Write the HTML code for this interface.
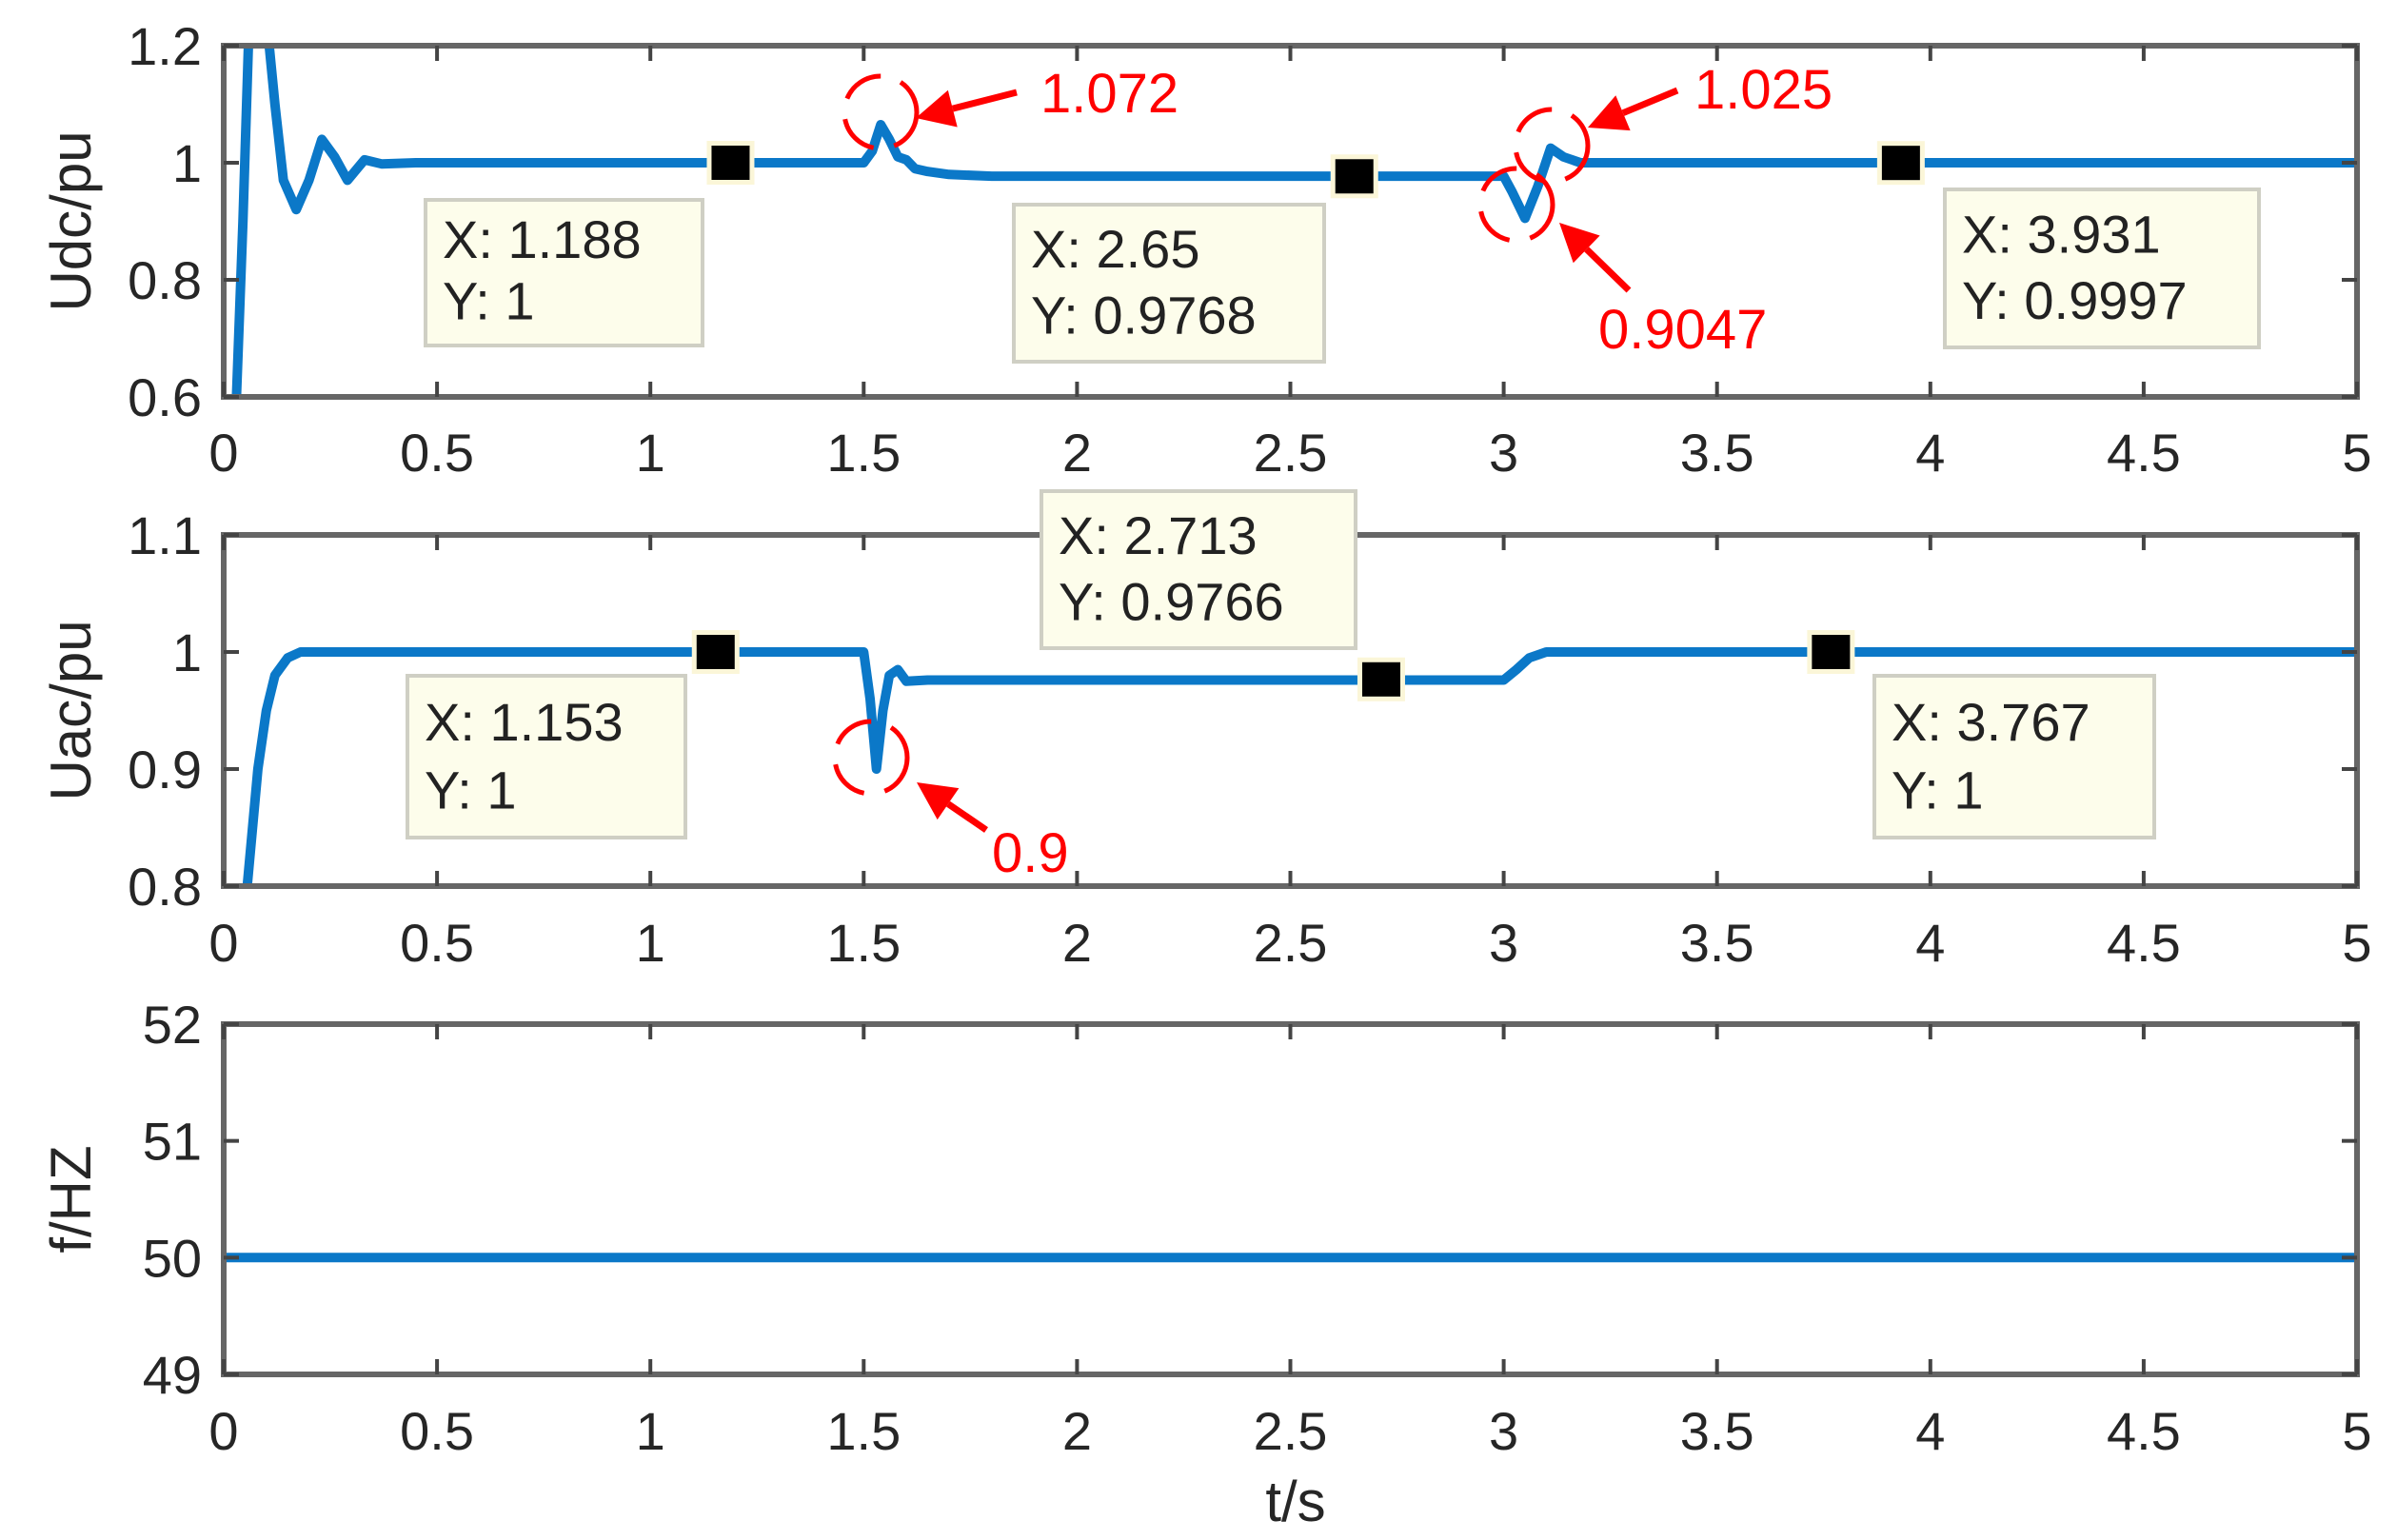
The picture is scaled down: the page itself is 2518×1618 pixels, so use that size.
<!DOCTYPE html>
<html><head><meta charset="utf-8">
<style>
html,body{margin:0;padding:0;background:#fff;}
svg{display:block;}
text{font-family:"Liberation Sans",sans-serif;}
</style></head>
<body>
<svg id="chart" width="2518" height="1618" viewBox="0 0 2518 1618" xmlns="http://www.w3.org/2000/svg">
<rect width="2518" height="1618" fill="#fff"/>
</svg>
<script>
// ---- data ----
const xTicks = [0,0.5,1,1.5,2,2.5,3,3.5,4,4.5,5];
const xTickLabels = ["0","0.5","1","1.5","2","2.5","3","3.5","4","4.5","5"];
const udcTicks = [0.6,0.8,1,1.2];
const udcTickLabels = ["0.6","0.8","1","1.2"];
const uacTicks = [0.8,0.9,1,1.1];
const uacTickLabels = ["0.8","0.9","1","1.1"];
const fTicks = [49,50,51,52];
const fTickLabels = ["49","50","51","52"];

const udcT = [0.03,0.045,0.06,0.1,0.12,0.14,0.17,0.2,0.23,0.26,0.29,0.33,0.37,0.45,1.5,1.52,1.54,1.56,1.58,1.6,1.62,1.65,1.7,1.8,2.0,3.0,3.02,3.05,3.08,3.11,3.14,3.18,3.25,5];
const udcV = [0.6,0.9,1.25,1.25,1.1,0.97,0.92,0.97,1.04,1.01,0.97,1.005,0.998,1,1,1.02,1.065,1.04,1.01,1.005,0.99,0.985,0.98,0.977,0.977,0.977,0.95,0.905,0.96,1.025,1.01,1.0,1.0,1.0];
const uacT = [0.055,0.08,0.1,0.12,0.15,0.18,0.25,1.5,1.515,1.53,1.545,1.56,1.58,1.6,1.65,1.8,3.0,3.03,3.06,3.1,5];
const uacV = [0.8,0.9,0.95,0.98,0.995,1,1,1,0.96,0.9,0.95,0.98,0.985,0.975,0.976,0.976,0.976,0.985,0.995,1,1];
const fT = [0,5];
const fV = [50,50];

const udcTips = [[1.188,1],[2.65,0.9768],[3.931,0.9997]];
const uacTips = [[1.153,1],[2.713,0.9766],[3.767,1]];

// ---- layout ----
const X0=235, X1=2476;
const panels = [
  {name:'udc', top:48, bot:417, min:0.6, max:1.2, ticks:udcTicks, labels:udcTickLabels, title:'Udc/pu', t:udcT, v:udcV, xlabY:475},
  {name:'uac', top:562, bot:931, min:0.8, max:1.1, ticks:uacTicks, labels:uacTickLabels, title:'Uac/pu', t:uacT, v:uacV, xlabY:990},
  {name:'freq', top:1076, bot:1444, min:49, max:52, ticks:fTicks, labels:fTickLabels, title:'f/HZ', t:fT, v:fV, xlabY:1503}
];
const svg = document.getElementById('chart');
const NS = 'http://www.w3.org/2000/svg';
function mk(tag, attrs, parent){const e=document.createElementNS(NS,tag);for(const k in attrs)e.setAttribute(k,attrs[k]);(parent||svg).appendChild(e);return e;}
function xs(t){return X0+(t-0)/(5-0)*(X1-X0);}
function ysF(p){return v=>p.bot-(v-p.min)/(p.max-p.min)*(p.bot-p.top);}

panels.forEach((p,pi)=>{
  const ys=ysF(p);
  const g=mk('g',{});
  
  
  const cp=mk('clipPath',{id:'clip'+pi},g);
  mk('rect',{x:X0,y:p.top,width:X1-X0,height:p.bot-p.top},cp);
  let d='';
  p.t.forEach((t,i)=>{d+=(i?'L':'M')+xs(t).toFixed(1)+','+ys(p.v[i]).toFixed(1);});
  const line=mk('path',{d:d,fill:'none',stroke:'#0b78c8','stroke-width':10,'stroke-linejoin':'round','clip-path':'url(#clip'+pi+')'},g);
  
  
  const fr=mk('rect',{x:X0,y:p.top,width:X1-X0,height:p.bot-p.top,fill:'none',stroke:'#666','stroke-width':6},g);
  
  
  xTicks.forEach((t,i)=>{
    const x=xs(t);
    mk('line',{x1:x,y1:p.bot,x2:x,y2:p.bot-16,stroke:'#444','stroke-width':4},g);
    mk('line',{x1:x,y1:p.top,x2:x,y2:p.top+16,stroke:'#444','stroke-width':4},g);
    const tx=mk('text',{x:x,y:p.xlabY+20,'font-size':56,'text-anchor':'middle',fill:'#262626'},g);
    tx.textContent=xTickLabels[i];
    
    
  });
  p.ticks.forEach((v,i)=>{
    const y=ys(v);
    mk('line',{x1:X0,y1:y,x2:X0+16,y2:y,stroke:'#444','stroke-width':4},g);
    mk('line',{x1:X1,y1:y,x2:X1-16,y2:y,stroke:'#444','stroke-width':4},g);
    const ty=mk('text',{x:212,y:y+20,'font-size':56,'text-anchor':'end',fill:'#262626'},g);
    ty.textContent=p.labels[i];
    
    
  });
  const cy=(p.top+p.bot)/2;
  const yt=mk('text',{x:0,y:0,'font-size':60,'text-anchor':'middle',fill:'#262626',transform:'translate(95,'+cy+') rotate(-90)'},g);
  yt.textContent=p.title;
  
  
});

function tip(panelIdx, tipArr, idx, bx, by, bw, bh){
  const p=panels[panelIdx], ys=ysF(p);
  const [tx,ty]=tipArr[idx];
  const g=mk('g',{});
  
  
  mk('rect',{x:bx,y:by,width:bw,height:bh,fill:'#fdfdeb',stroke:'#cfcfc4','stroke-width':4},g);
  const t1=mk('text',{x:bx+18,y:by+bh*0.40,'font-size':56,fill:'#222'},g);
  t1.textContent='X: '+tx;
  const t2=mk('text',{x:bx+18,y:by+bh*0.82,'font-size':56,fill:'#222'},g);
  t2.textContent='Y: '+ty;
  const mx=xs(tx), my=ys(ty);
  mk('rect',{x:mx-25,y:my-23,width:50,height:46,fill:'#fbf6d8'},g);
  const m=mk('rect',{x:mx-20,y:my-18,width:40,height:36,fill:'#000'},g);
  
  
}
tip(0,udcTips,0,447,210,291,153);
tip(0,udcTips,1,1065,215,326,165);
tip(0,udcTips,2,2043,199,330,166);
tip(1,uacTips,0,428,710,292,170);
tip(1,uacTips,1,1094,516,330,165);
tip(1,uacTips,2,1969,710,294,170);

function note(label, cx, cy, ax1, ay1, ax2, ay2, tx, ty){
  const g=mk('g',{});
  
  
  mk('circle',{cx:cx,cy:cy,r:38,fill:'none',stroke:'#f00','stroke-width':5,'stroke-dasharray':'45 22'},g);
  const ang=Math.atan2(ay2-ay1,ax2-ax1);
  const hx=ax2-Math.cos(ang)*40, hy=ay2-Math.sin(ang)*40;
  mk('line',{x1:ax1,y1:ay1,x2:hx,y2:hy,stroke:'#f00','stroke-width':7},g);
  const px=Math.cos(ang+Math.PI/2)*20, py=Math.sin(ang+Math.PI/2)*20;
  mk('polygon',{points:ax2+','+ay2+' '+(hx+px)+','+(hy+py)+' '+(hx-px)+','+(hy-py),fill:'#f00'},g);
  const t=mk('text',{x:tx,y:ty,'font-size':58,fill:'#f00'},g);
  t.textContent=label;
}
note('1.072',925,118,1068,97,962,124,1093,118);
note('1.025',1630,153,1762,95,1668,134,1780,114);
note('0.9047',1593,215,1711,305,1638,234,1679,366);
note('0.9',915,796,1036,872,963,822,1042,916);

const xl=mk('text',{x:1361,y:1598,'font-size':60,'text-anchor':'middle',fill:'#262626'});
xl.textContent='t/s';


</script>
</body></html>
